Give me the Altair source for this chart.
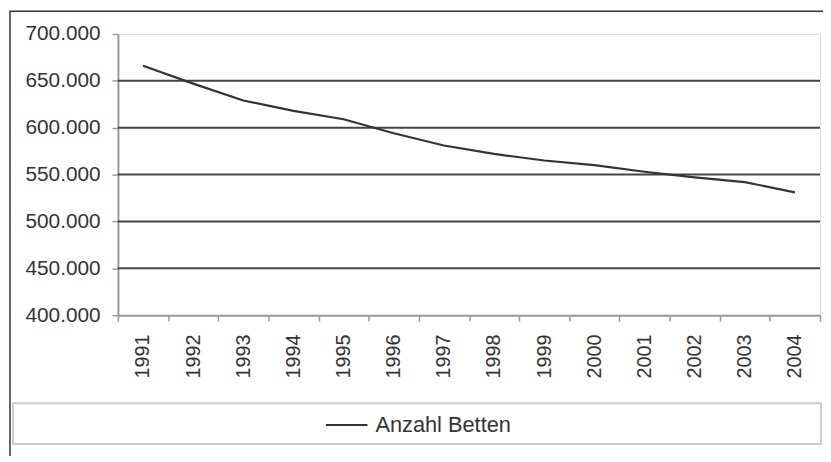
import altair as alt
import pandas as pd

years = ["1991", "1992", "1993", "1994", "1995", "1996", "1997",
         "1998", "1999", "2000", "2001", "2002", "2003", "2004"]
betten = [666000, 647000, 629000, 618000, 609000, 594000, 581000,
          572000, 565000, 560000, 553000, 547000, 542000, 531000]
series_name = "Anzahl Betten"
grid_values = [450000, 500000, 550000, 600000, 650000]
y_ticks = [400000, 450000, 500000, 550000, 600000, 650000, 700000]

FONT = "Liberation Sans"
TXT = "#333333"

df = pd.DataFrame({"year": years, "value": betten, "series": [series_name] * len(years)})
gdf = pd.DataFrame({"g": grid_values})
one = pd.DataFrame({"a": [0]})

x_enc = alt.X(
    "year:O",
    title=None,
    sort=years,
    bandPosition=0.5,
    scale=alt.Scale(type="band", paddingInner=0, paddingOuter=0),
    axis=alt.Axis(
        labelAngle=270,
        labelFontSize=20,
        labelFont=FONT,
        labelColor=TXT,
        tickBand="extent",
        tickSize=6,
        tickColor="#999999",
        tickWidth=1.5,
        domainColor="#999999",
        domainWidth=2,
        labelPadding=13,
        grid=False,
    ),
)

y_scale = alt.Scale(domain=[400000, 700000], nice=False, zero=False)

frame = alt.Chart(one).mark_rect(filled=False, stroke="#333333", strokeWidth=1.5).encode(
    x=alt.value(-109), x2=alt.value(820), y=alt.value(-23), y2=alt.value(500)
)

legend_box = alt.Chart(one).mark_rect(filled=False, stroke="#cccccc", strokeWidth=2).encode(
    x=alt.value(-106), x2=alt.value(710), y=alt.value(373), y2=alt.value(414)
)

grid = alt.Chart(gdf).mark_rule(color="#444444", strokeWidth=2).encode(
    y=alt.Y("g:Q", scale=y_scale)
)

line = alt.Chart(df).mark_line(strokeWidth=2.2).encode(
    x=x_enc,
    y=alt.Y(
        "value:Q",
        title=None,
        scale=y_scale,
        axis=alt.Axis(
            values=y_ticks,
            labelExpr="replace(format(datum.value, ',d'), ',', '.')",
            labelFontSize=21,
            labelFont=FONT,
            labelColor=TXT,
            tickSize=6,
            tickColor="#999999",
            tickWidth=1.5,
            domainColor="#999999",
            domainWidth=2,
            labelPadding=12,
            grid=False,
        ),
    ),
    color=alt.Color(
        "series:N",
        title=None,
        scale=alt.Scale(range=["#333333"]),
        legend=alt.Legend(
            orient="none",
            legendX=209,
            legendY=373,
            symbolType="stroke",
            symbolSize=1764,
            symbolStrokeWidth=2,
            labelFontSize=22,
            labelFont=FONT,
            labelColor=TXT,
            labelOffset=7,
            padding=0,
        ),
    ),
)

chart = alt.layer(frame, legend_box, grid, line).properties(
    width=709,
    height=284,
    autosize=alt.AutoSizeParams(type="none"),
    padding={"left": 111, "top": 24, "right": 3, "bottom": 140},
).configure_view(stroke="#999999", strokeWidth=2).configure(background="white")

chart.save("out.html", embed_options={"renderer": "svg", "actions": False})
